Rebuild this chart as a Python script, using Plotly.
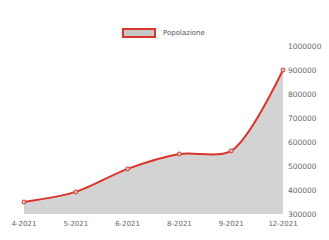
import plotly.graph_objects as go

months = ["4-2021", "5-2021", "6-2021", "8-2021", "9-2021", "12-2021"]
popolazione = [350000, 392000, 488000, 550000, 563000, 900000]
y_ticks = [300000, 400000, 500000, 600000, 700000, 800000, 900000, 1000000]

fig = go.Figure()
fig.add_trace(go.Scatter(
    x=list(range(len(months))), y=popolazione, mode="lines+markers",
    line=dict(color="#d9352a", width=2, shape="spline", smoothing=0.8),
    marker=dict(size=4, color="rgba(215,205,205,0.9)", line=dict(color="#d9352a", width=1)),
    fill="tozeroy", fillcolor="rgba(175,175,175,0.55)",
    showlegend=False, cliponaxis=False, name="Popolazione",
))

fig.add_shape(type="rect", xref="paper", yref="paper",
              x0=0.382, x1=0.506, y0=1.054, y1=1.101,
              line=dict(color="#d9352a", width=2), fillcolor="rgba(185,185,185,0.8)")
fig.add_annotation(text="Popolazione", xref="paper", yref="paper", x=0.53, y=1.077,
                   xanchor="left", yanchor="middle", showarrow=False,
                   font=dict(size=7, color="#555"))

fig.update_layout(
    width=329, height=240,
    margin=dict(l=24, r=46, t=46, b=26),
    paper_bgcolor="white", plot_bgcolor="white",
    font=dict(family="DejaVu Sans", size=7, color="#666"),
    xaxis=dict(tickmode="array", tickvals=list(range(len(months))), ticktext=months,
               range=[0, len(months) - 1], showgrid=False, zeroline=False,
               showline=False, ticks="", automargin=False, ticklabelstandoff=4,
               tickfont=dict(size=7, color="#666")),
    yaxis=dict(side="right", range=[300000, 1000000], tickvals=y_ticks,
               ticktext=[f"{v:d}" for v in y_ticks], showgrid=False, zeroline=False,
               ticks="", automargin=False, ticklabelstandoff=4,
               tickfont=dict(size=7.5, color="#666")),
)

fig.write_html("out.html", config={"displayModeBar": False},
               post_script="document.body.style.margin='0';document.body.style.overflow='hidden';")
